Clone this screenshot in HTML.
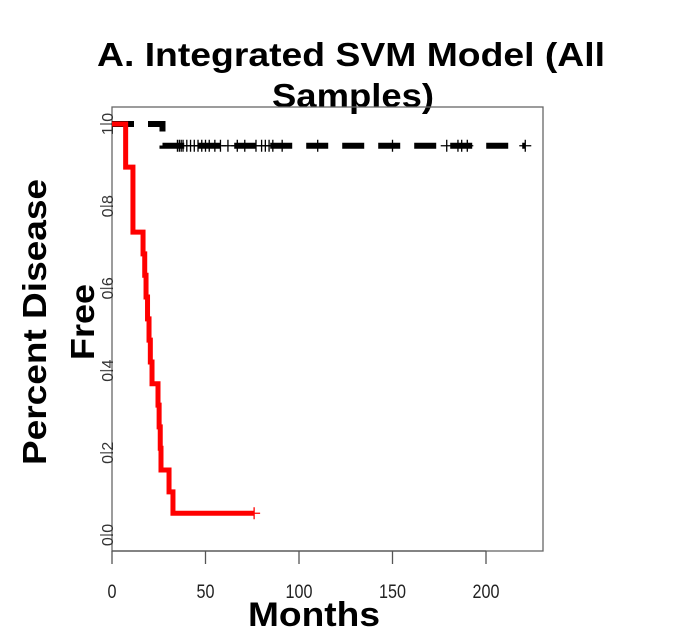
<!DOCTYPE html>
<html><head><meta charset="utf-8"><style>
body{margin:0;background:#fff;}
svg{display:block;font-family:"Liberation Sans",Arial,sans-serif;}
</style></head><body>
<svg id="chart" width="675" height="643" viewBox="0 0 675 643">
<text x="351" y="66" text-anchor="middle" font-size="33" font-weight="bold" textLength="508" lengthAdjust="spacingAndGlyphs">A. Integrated SVM Model (All</text>
<text x="353" y="107" text-anchor="middle" font-size="33" font-weight="bold" textLength="162" lengthAdjust="spacingAndGlyphs">Samples)</text>
<rect x="112" y="107" width="431" height="444" fill="none" stroke="#666" stroke-width="1.3"/>
<g id="axes"></g>
<g id="series"></g>
<text transform="translate(46,322) rotate(-90)" text-anchor="middle" font-size="33" font-weight="bold" textLength="286" lengthAdjust="spacingAndGlyphs">Percent Disease</text>
<text transform="translate(94,322) rotate(-90)" text-anchor="middle" font-size="33" font-weight="bold" textLength="76" lengthAdjust="spacingAndGlyphs">Free</text>
<text x="314" y="626" text-anchor="middle" font-size="34" font-weight="bold" textLength="132" lengthAdjust="spacingAndGlyphs">Months</text>
</svg>
<script>
const xTicks=[0,50,100,150,200];
const yTicks=[0,0.2,0.4,0.6,0.8,1.0];
const yTickLabels=["0.0","0.2","0.4","0.6","0.8","1.0"];
const redTimes=[0,7.3,11.2,16.6,17.5,18.2,19,19.8,20.5,21.4,24.6,25.2,25.8,26.2,30.5,32.6,76];
const redSurv=[1,0.895,0.737,0.684,0.632,0.579,0.526,0.474,0.421,0.368,0.316,0.263,0.211,0.158,0.105,0.053,0.053];
const redCensor=[76];
const blackTimes=[0,27,221];
const blackSurv=[1,0.947,0.947];
const blackCensor=[35,36,37,38,40,42,44,46,48,50,52,55,58,62,67,71,77,80,82,84,86,91,110,150,179,185,187,190,221];
const ns="http://www.w3.org/2000/svg";
const X=t=>112+t*1.87;
const Y=s=>535-s*411;
const ax=document.getElementById('axes'), se=document.getElementById('series');
function mk(tag,attrs,parent){const e=document.createElementNS(ns,tag);for(const k in attrs)e.setAttribute(k,attrs[k]);parent.appendChild(e);return e;}
let l=mk('line',{x1:X(0),x2:X(200),y1:551,y2:551,stroke:'#555','stroke-width':1.3},ax);


xTicks.forEach(v=>{
 const t=mk('line',{x1:X(v),x2:X(v),y1:551,y2:564,stroke:'#555','stroke-width':1.3},ax);
 
 
 const tx=mk('text',{x:X(v),y:598,'text-anchor':'middle','font-size':19,fill:'#222',transform:`translate(${X(v)},0) scale(0.85,1) translate(${-X(v)},0)`},ax);tx.textContent=v;
 
 
});
yTicks.forEach((v,i)=>{
 const t=mk('line',{x1:100,x2:112,y1:Y(v),y2:Y(v),stroke:'#555','stroke-width':1.3},ax);
 
 
 const tx=mk('text',{transform:`translate(113,${Y(v)}) rotate(-90)`,'text-anchor':'middle','font-size':16,fill:'#333'},ax);tx.textContent=yTickLabels[i];
 
 
});
function stepPath(ts,ss){let d=`M${X(ts[0])},${Y(ss[0])}`;for(let i=1;i<ts.length;i++){d+=` H${X(ts[i])} V${Y(ss[i])}`;}return d;}
function survAt(ts,ss,t){let s=ss[0];for(let i=0;i<ts.length;i++)if(ts[i]<=t)s=ss[i];return s;}
const bp=mk('path',{d:stepPath(blackTimes,blackSurv),fill:'none',stroke:'#000','stroke-width':6,'stroke-dasharray':'22,14'},se);


blackCensor.forEach(t=>{
 const s=survAt(blackTimes,blackSurv,t);
 const c=mk('path',{d:`M${X(t)-6},${Y(s)} H${X(t)+6} M${X(t)},${Y(s)-6} V${Y(s)+6}`,stroke:'#000','stroke-width':1.3},se);
 
 
});
const rp=mk('path',{d:stepPath(redTimes,redSurv),fill:'none',stroke:'#f00','stroke-width':5},se);


redCensor.forEach(t=>{
 const s=survAt(redTimes,redSurv,t);
 const c=mk('path',{d:`M${X(t)-6},${Y(s)} H${X(t)+6} M${X(t)},${Y(s)-6} V${Y(s)+6}`,stroke:'#f00','stroke-width':1.3},se);
 
 
});
</script>
</body></html>
